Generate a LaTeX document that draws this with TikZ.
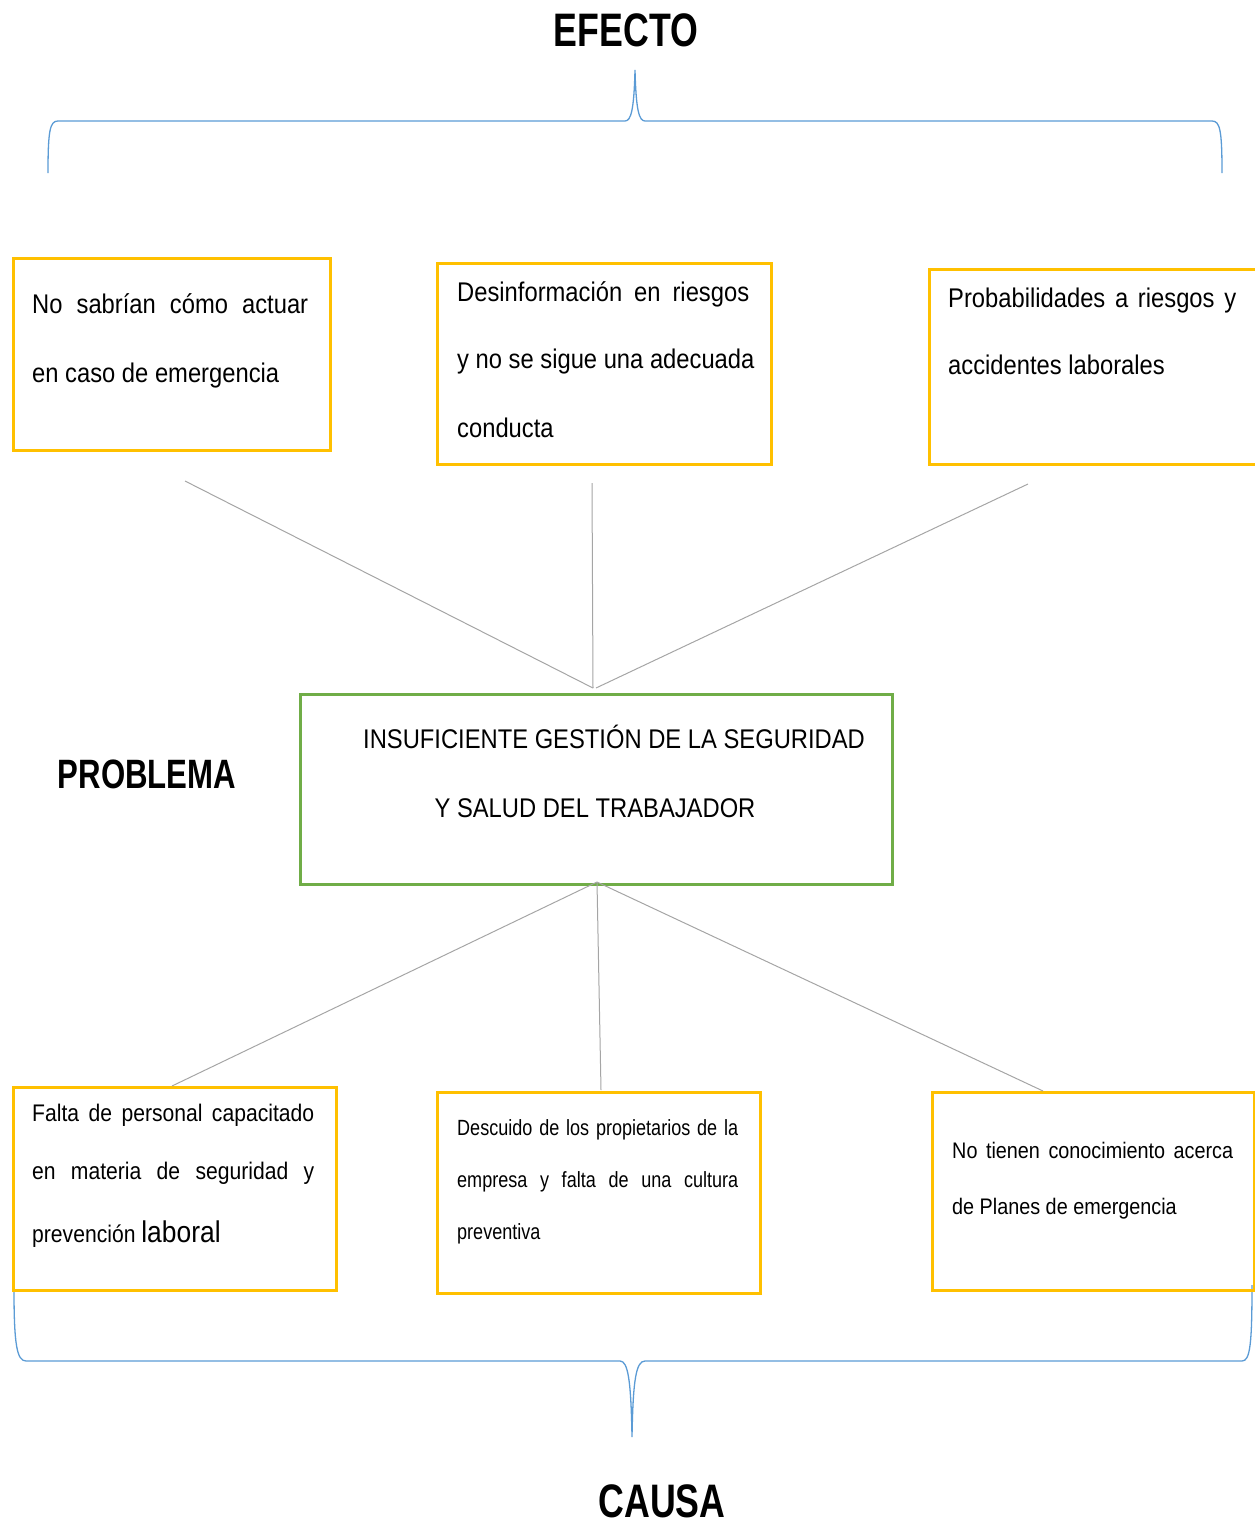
\documentclass[tikz,border=0pt]{standalone}
\usepackage{fontspec}
\setmainfont{Liberation Sans}[FakeStretch=0.88]
\newfontfamily\smallnarrow{Liberation Sans}[FakeStretch=0.82]
\newfontfamily\boldnarrow{Liberation Sans}[FakeStretch=0.76]
\definecolor{boxyellow}{HTML}{FFC000}
\definecolor{boxgreen}{HTML}{70AD47}
\definecolor{braceblue}{HTML}{5B9BD5}
\definecolor{linegrey}{HTML}{A5A5A5}
\begin{document}
\begin{tikzpicture}[x=1pt,y=-1pt,
  ybox/.style={draw=boxyellow,line width=2.8pt},
  gbox/.style={draw=boxgreen,line width=2.6pt},
  brc/.style={draw=braceblue,line width=1.3pt},
  conn/.style={draw=linegrey,line width=1pt},
  txt/.style={anchor=base west,inner sep=0pt,font=\fontsize{27}{30}\selectfont},
  txts/.style={anchor=base west,inner sep=0pt,font=\smallnarrow\fontsize{22}{26}\selectfont},
  title/.style={inner sep=0pt,font=\boldnarrow\bfseries\fontsize{47}{52}\selectfont}]
\useasboundingbox (0,0) rectangle (1255,1529);
% titles
\node[title] (efecto) at (626,30) {EFECTO};
\node[title] (causa) at (662,1501) {CAUSA};
\node[title,font=\boldnarrow\bfseries\fontsize{41}{44}\selectfont] (problema) at (147,774) {PROBLEMA};
% top brace
\draw[brc] (48,173) .. controls (48,130) and (50,121) .. (58,121) -- (625,121)
  .. controls (631,121) and (634,110) .. (635,70)
  .. controls (636,110) and (639,121) .. (645,121) -- (1212,121)
  .. controls (1220,121) and (1222,130) .. (1222,173);
% bottom brace
\draw[brc] (14,1290) .. controls (14,1345) and (17,1361) .. (26,1361) -- (620,1361)
  .. controls (628,1361) and (631,1380) .. (632,1437)
  .. controls (633,1380) and (636,1361) .. (645,1361) -- (1242,1361)
  .. controls (1250,1361) and (1252,1345) .. (1252,1285);
% effect boxes
\node[ybox,anchor=north west,minimum width=317pt,minimum height=192pt,inner sep=0pt] (e1) at (12,257) {};
\node[ybox,anchor=north west,minimum width=334pt,minimum height=201pt,inner sep=0pt] (e2) at (436,262) {};
\node[ybox,anchor=north west,minimum width=330pt,minimum height=195pt,inner sep=0pt] (e3) at (928,268) {};
\node[txt] (e1a) at (32,313) {\makebox[276pt][s]{No sabrían cómo actuar}};
\node[txt] (e1b) at (32,382) {en caso de emergencia};
\node[txt] (e2a) at (457,301) {\makebox[292pt][s]{Desinformación en riesgos}};
\node[txt] (e2b) at (457,368) {y no se sigue una adecuada};
\node[txt] (e2c) at (457,437) {conducta};
\node[txt] (e3a) at (948,307) {\makebox[288pt][s]{Probabilidades a riesgos y}};
\node[txt] (e3b) at (948,374) {accidentes laborales};
% problem box
\node[gbox,anchor=north west,minimum width=592pt,minimum height=190pt,inner sep=0pt] (p) at (299,693) {};
\node[txt,anchor=base] (p1) at (614,748) {INSUFICIENTE GESTIÓN DE LA SEGURIDAD};
\node[txt,anchor=base] (p2) at (595,817) {Y SALUD DEL TRABAJADOR};
% cause boxes
\node[ybox,anchor=north west,minimum width=323pt,minimum height=203pt,inner sep=0pt] (c1) at (12,1086) {};
\node[ybox,anchor=north west,minimum width=323pt,minimum height=201pt,inner sep=0pt] (c2) at (436,1091) {};
\node[ybox,anchor=north west,minimum width=322pt,minimum height=198pt,inner sep=0pt] (c3) at (931,1091) {};
\node[txt,font=\fontsize{24}{28}\selectfont] (c1a) at (32,1121) {\makebox[282pt][s]{Falta de personal capacitado}};
\node[txt,font=\fontsize{24}{28}\selectfont] (c1b) at (32,1179) {\makebox[282pt][s]{en materia de seguridad y}};
\node[txt,font=\fontsize{24}{28}\selectfont] (c1c) at (32,1242) {prevención {\fontsize{30}{34}\selectfont laboral}};
\node[txts] (c2a) at (457,1135) {\makebox[281pt][s]{Descuido de los propietarios de la}};
\node[txts] (c2b) at (457,1187) {\makebox[281pt][s]{empresa y falta de una cultura}};
\node[txts] (c2c) at (457,1239) {preventiva};
\node[txt,font=\fontsize{22.5}{27}\selectfont] (c3a) at (952,1158) {\makebox[281pt][s]{No tienen conocimiento acerca}};
\node[txt,font=\fontsize{22.5}{27}\selectfont] (c3b) at (952,1214) {de Planes de emergencia};
% connector coordinates
\coordinate (e1end) at (185,481);
\coordinate (e2end) at (592,483);
\coordinate (e3end) at (1028,484);
\coordinate (ptop) at (593,688);
\coordinate (ptop2) at (596,688);
\coordinate (pbot) at (597,882);
\coordinate (c1end) at (172,1086);
\coordinate (c2end) at (601,1090);
\coordinate (c3end) at (1043,1091);
\draw[conn] (e1end) -- (ptop);
\draw[conn] (e2end) -- (ptop);
\draw[conn] (e3end) -- (ptop2);
\draw[conn] (pbot) -- (c1end);
\draw[conn] (pbot) -- (c2end);
\draw[conn] (pbot) -- (c3end);
\end{tikzpicture}
\end{document}
